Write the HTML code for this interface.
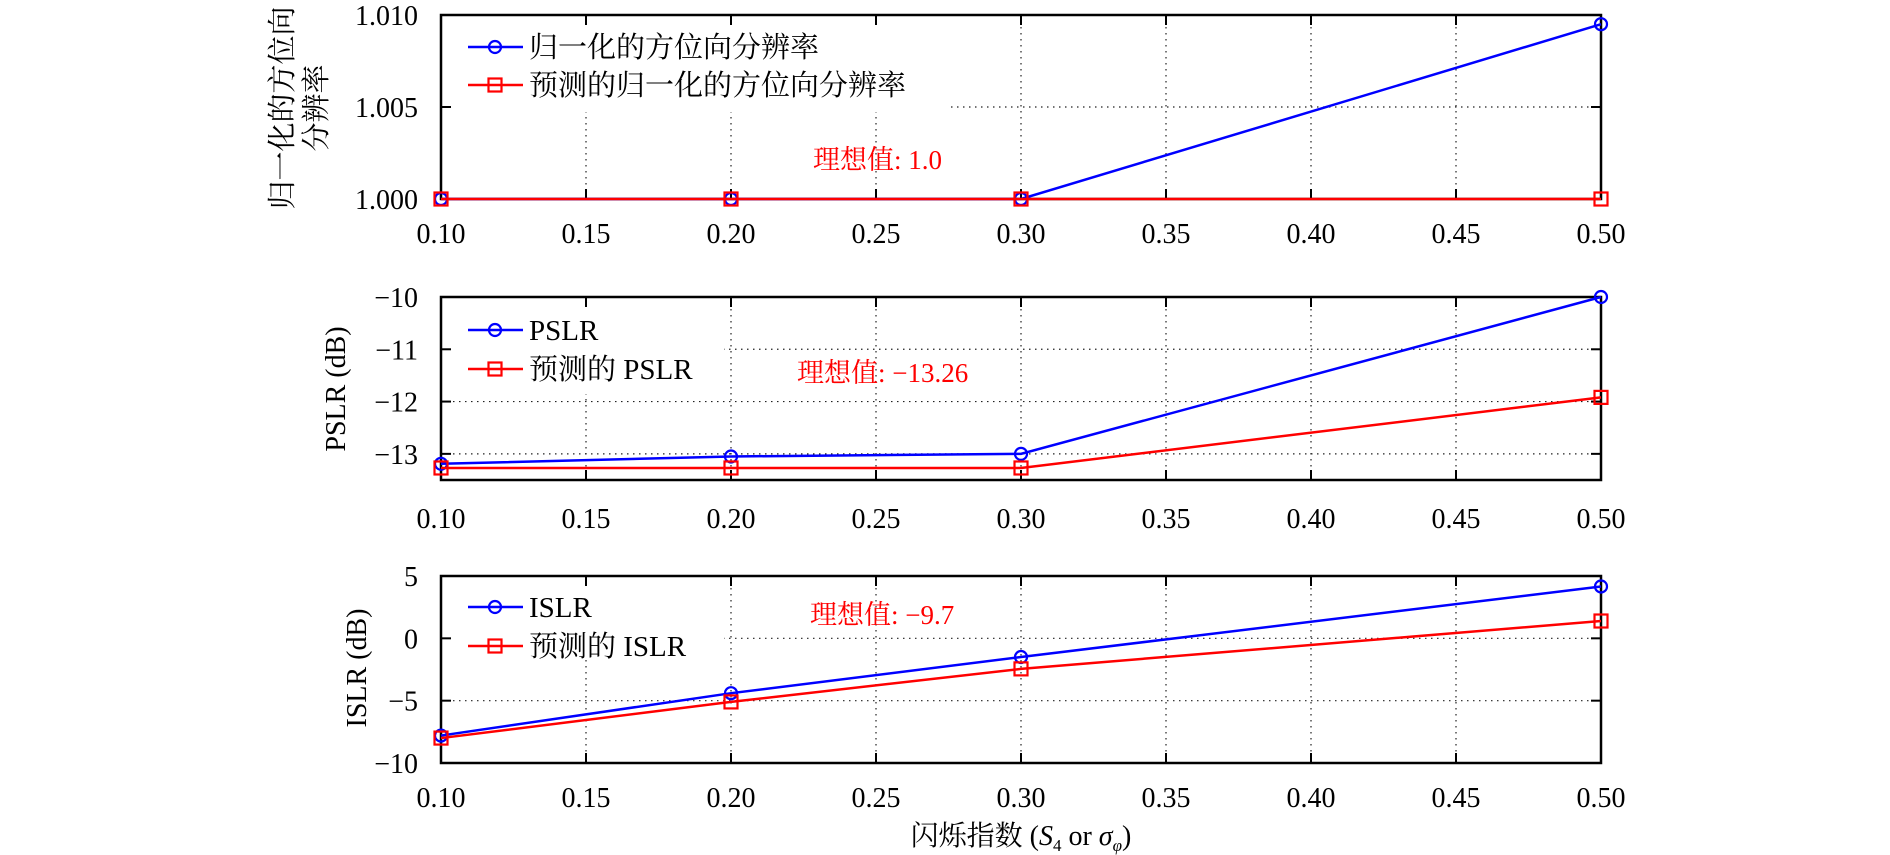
<!DOCTYPE html>
<html><head><meta charset="utf-8"><style>
html,body{margin:0;padding:0;background:#fff;}
svg{display:block;font-family:"Liberation Serif","Noto Serif CJK SC",serif;}
</style></head><body>
<svg id="chart" width="1890" height="855" viewBox="0 0 1890 855" xmlns="http://www.w3.org/2000/svg"></svg>
<script>
const xValues = [0.10, 0.20, 0.30, 0.50];
const xTicks = [0.10, 0.15, 0.20, 0.25, 0.30, 0.35, 0.40, 0.45, 0.50];
const xTickLabels = ["0.10","0.15","0.20","0.25","0.30","0.35","0.40","0.45","0.50"];
const resMeasured = [1.000, 1.000, 1.000, 1.0095];
const resPredicted = [1.000, 1.000, 1.000, 1.000];
const pslrMeasured = [-13.19, -13.05, -13.0, -10.0];
const pslrPredicted = [-13.27, -13.27, -13.27, -11.92];
const islrMeasured = [-7.8, -4.4, -1.5, 4.16];
const islrPredicted = [-8.0, -5.1, -2.45, 1.39];
const resTicks = [1.000, 1.005, 1.010];
const resTickLabels = ["1.000","1.005","1.010"];
const pslrTicks = [-13, -12, -11, -10];
const pslrTickLabels = ["\u221213","\u221212","\u221211","\u221210"];
const islrTicks = [-10, -5, 0, 5];
const islrTickLabels = ["\u221210","\u22125","0","5"];

const NS = "http://www.w3.org/2000/svg";
const svg = document.getElementById('chart');
const X0 = 441, X1 = 1601, XMIN = 0.1, XMAX = 0.5;
function xs(v){ return X0 + (v - XMIN) / (XMAX - XMIN) * (X1 - X0); }
function mk(tag, attrs, parent){
  const e = document.createElementNS(NS, tag);
  for (const k in attrs) e.setAttribute(k, attrs[k]);
  (parent || svg).appendChild(e);
  return e;
}

const panels = [
  {key:'resolution', top:15, bottom:199, ymin:1.000, ymax:1.010, ticks:resTicks, labels:resTickLabels,
   s1:resMeasured, s2:resPredicted, n1:'归一化的方位向分辨率', n2:'预测的归一化的方位向分辨率',
   legendW:505, legendH:95, leg1:47, leg2:85, note:'理想值: 1.0', noteX:813, noteY:169, xlabY:243},
  {key:'pslr', top:297, bottom:480, ymin:-13.5, ymax:-10, ticks:pslrTicks, labels:pslrTickLabels,
   s1:pslrMeasured, s2:pslrPredicted, n1:'PSLR', n2:'预测的 PSLR',
   legendW:281, legendH:95, leg1:330, leg2:369, note:'理想值: \u221213.26', noteX:797, noteY:382, xlabY:528},
  {key:'islr', top:576, bottom:763, ymin:-10, ymax:5, ticks:islrTicks, labels:islrTickLabels,
   s1:islrMeasured, s2:islrPredicted, n1:'ISLR', n2:'预测的 ISLR',
   legendW:281, legendH:78, leg1:607, leg2:646, note:'理想值: \u22129.7', noteX:810, noteY:624, xlabY:807}
];

panels.forEach(p => {
  const g = mk('g', {});
  
  
  const ys = v => p.bottom - (v - p.ymin) / (p.ymax - p.ymin) * (p.bottom - p.top);
  const grid = mk('g', {stroke:'#222', 'stroke-width':1.2, 'stroke-dasharray':'1.5 4.5'}, g);
  
  
  xTicks.forEach(t => { if (t > XMIN && t < XMAX) mk('line', {x1:xs(t), x2:xs(t), y1:p.top, y2:p.bottom}, grid); });
  p.ticks.forEach(t => { const y = ys(t); if (y > p.top + 1 && y < p.bottom - 1) mk('line', {x1:X0, x2:X1, y1:y, y2:y}, grid); });
  const lb = mk('rect', {x:X0+2, y:p.top+2, width:p.legendW, height:p.legendH, fill:'#fff'}, g);
  
  
  const tk = mk('g', {stroke:'#000', 'stroke-width':2}, g);
  xTicks.forEach(t => {
    mk('line', {x1:xs(t), x2:xs(t), y1:p.top, y2:p.top+10}, tk);
    mk('line', {x1:xs(t), x2:xs(t), y1:p.bottom, y2:p.bottom-10}, tk);
  });
  p.ticks.forEach(t => {
    mk('line', {x1:X0, x2:X0+10, y1:ys(t), y2:ys(t)}, tk);
    mk('line', {x1:X1, x2:X1-10, y1:ys(t), y2:ys(t)}, tk);
  });
  const fr = mk('rect', {x:X0, y:p.top, width:X1-X0, height:p.bottom-p.top, fill:'none', stroke:'#000', 'stroke-width':2.5}, g);
  
  
  xTicks.forEach((t, i) => {
    const tx = mk('text', {x:xs(t), y:p.xlabY, 'font-size':28, 'text-anchor':'middle'}, g);
    tx.textContent = xTickLabels[i];
    
    
  });
  p.ticks.forEach((t, i) => {
    const tx = mk('text', {x:418, y:ys(t)+10, 'font-size':28, 'text-anchor':'end'}, g);
    tx.textContent = p.labels[i];
    
    
  });
  const series = [{v:p.s1, c:'#0000ff', m:'circle', n:'measured'}, {v:p.s2, c:'#ff0000', m:'square', n:'predicted'}];
  series.forEach(s => {
    const pts = s.v.map((v, i) => xs(xValues[i]) + ',' + ys(v)).join(' ');
    const pl = mk('polyline', {points:pts, fill:'none', stroke:s.c, 'stroke-width':2.5}, g);
    
    
    s.v.forEach((v, i) => {
      let m;
      if (s.m === 'circle') m = mk('circle', {cx:xs(xValues[i]), cy:ys(v), r:6, fill:'none', stroke:s.c, 'stroke-width':2.2}, g);
      else m = mk('rect', {x:xs(xValues[i])-6.5, y:ys(v)-6.5, width:13, height:13, fill:'none', stroke:s.c, 'stroke-width':2.2}, g);
      
      
    });
  });
  [[p.leg1, '#0000ff', 'circle', p.n1], [p.leg2, '#ff0000', 'square', p.n2]].forEach(([y, c, m, n]) => {
    const le = mk('g', {}, g);
    
    
    mk('line', {x1:468, x2:523, y1:y, y2:y, stroke:c, 'stroke-width':2.5}, le);
    if (m === 'circle') mk('circle', {cx:495, cy:y, r:6, fill:'none', stroke:c, 'stroke-width':2.2}, le);
    else mk('rect', {x:488.5, y:y-6.5, width:13, height:13, fill:'none', stroke:c, 'stroke-width':2.2}, le);
    const t = mk('text', {x:529, y:y+10, 'font-size':29}, le);
    t.textContent = n;
  });
  const note = mk('text', {x:p.noteX, y:p.noteY, 'font-size':27, fill:'#ff0000'}, g);
  note.textContent = p.note;
  
  
});

function rotText(x, y, str, name, fs){
  const t = mk('text', {x:x, y:y, 'font-size':fs, 'text-anchor':'middle', transform:'rotate(-90 '+x+' '+y+')'});
  t.textContent = str;
  
  
}
rotText(292, 108, '归一化的方位向', 'resolution-y-axis-title-line1', 29);
rotText(326, 108, '分辨率', 'resolution-y-axis-title-line2', 29);
rotText(345, 389, 'PSLR (dB)', 'pslr-y-axis-title', 28);
rotText(366, 668, 'ISLR (dB)', 'islr-y-axis-title', 28);

const xl = mk('text', {x:1021, y:845, 'font-size':28, 'text-anchor':'middle'});


xl.innerHTML = '闪烁指数 (<tspan font-style="italic">S</tspan><tspan font-size="17" dy="6">4</tspan><tspan dy="-6"> or </tspan><tspan font-style="italic">σ</tspan><tspan font-size="17" font-style="italic" dy="6">φ</tspan><tspan dy="-6">)</tspan>';
</script>
</body></html>
